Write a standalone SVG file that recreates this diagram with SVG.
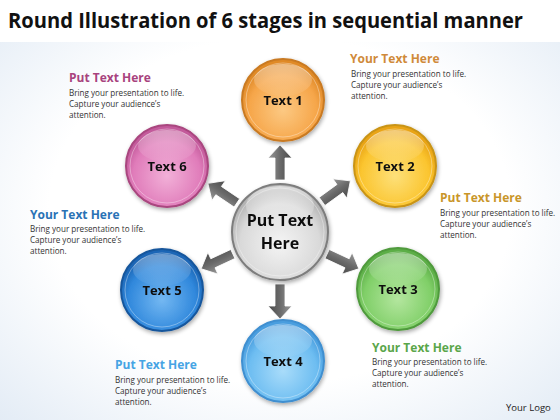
<svg xmlns="http://www.w3.org/2000/svg" width="560" height="420" viewBox="0 0 560 420">
<defs>
  <radialGradient id="bg" cx="50%" cy="50%" r="75%">
    <stop offset="0.55" stop-color="#ffffff"/>
    <stop offset="1" stop-color="#dfe9f4"/>
  </radialGradient>
  <linearGradient id="hl" x1="0" y1="0" x2="0" y2="1">
    <stop offset="0" stop-color="#fff" stop-opacity="0.75"/>
    <stop offset="1" stop-color="#fff" stop-opacity="0.05"/>
  </linearGradient>
  <radialGradient id="gO" cx="50%" cy="62%" r="55%"><stop offset="0" stop-color="#fcc983"/><stop offset="0.75" stop-color="#f6a64a"/><stop offset="1" stop-color="#e08a28"/></radialGradient>
  <radialGradient id="gY" cx="50%" cy="62%" r="55%"><stop offset="0" stop-color="#fde07a"/><stop offset="0.75" stop-color="#fbc52f"/><stop offset="1" stop-color="#e9a415"/></radialGradient>
  <radialGradient id="gG" cx="50%" cy="62%" r="55%"><stop offset="0" stop-color="#b4e69f"/><stop offset="0.75" stop-color="#80cf68"/><stop offset="1" stop-color="#5cae47"/></radialGradient>
  <radialGradient id="gL" cx="50%" cy="62%" r="55%"><stop offset="0" stop-color="#a9dcfa"/><stop offset="0.75" stop-color="#6dbdf1"/><stop offset="1" stop-color="#4a9edf"/></radialGradient>
  <radialGradient id="gB" cx="50%" cy="62%" r="55%"><stop offset="0" stop-color="#74b8f2"/><stop offset="0.75" stop-color="#3088dc"/><stop offset="1" stop-color="#1c66b6"/></radialGradient>
  <radialGradient id="gP" cx="50%" cy="62%" r="55%"><stop offset="0" stop-color="#f2b0d8"/><stop offset="0.75" stop-color="#e07cba"/><stop offset="1" stop-color="#c35a9b"/></radialGradient>
  <radialGradient id="gC" cx="50%" cy="62%" r="55%"><stop offset="0" stop-color="#f4f4f4"/><stop offset="0.75" stop-color="#d9d9d9"/><stop offset="1" stop-color="#b4b4b4"/></radialGradient>
  <linearGradient id="ag" x1="0" y1="0" x2="0" y2="1">
    <stop offset="0" stop-color="#9a9a9a"/>
    <stop offset="0.5" stop-color="#6a6a6a"/>
    <stop offset="1" stop-color="#4a4a4a"/>
  </linearGradient>
  <filter id="sh" x="-20%" y="-20%" width="140%" height="140%">
    <feGaussianBlur in="SourceAlpha" stdDeviation="2"/>
    <feOffset dx="1" dy="2"/>
    <feComponentTransfer><feFuncA type="linear" slope="0.35"/></feComponentTransfer>
    <feMerge><feMergeNode/><feMergeNode in="SourceGraphic"/></feMerge>
  </filter>
  <path id="arr" d="M52,-5 L74,-5 L74,-12 L87,0 L74,12 L74,5 L52,5 Z"/>
</defs>
<style>
  .title{font-family:"Open Sans","Liberation Sans",sans-serif;font-weight:bold;font-size:21px;fill:#111}
  .lbl{font-family:"Open Sans","Liberation Sans",sans-serif;font-weight:bold;font-size:13px;fill:#111;text-anchor:middle}
  .clbl{font-family:"Open Sans","Liberation Sans",sans-serif;font-weight:bold;font-size:16px;fill:#111;text-anchor:middle}
  .hd{font-family:"Open Sans","Liberation Sans",sans-serif;font-weight:bold;font-size:12px}
  .bd{font-family:"Open Sans","Liberation Sans",sans-serif;font-size:8.1px;fill:#333}
  .logo{font-family:"Open Sans","Liberation Sans",sans-serif;font-size:9.5px;fill:#222}
  .ring{stroke-width:2}
  .inner{fill:none;stroke:#fff;stroke-opacity:0.35;stroke-width:1}
  .arrow{fill:url(#ag);stroke:#fff;stroke-width:0.8}
</style>
<rect width="560" height="420" fill="url(#bg)"/>
<rect width="560" height="42" fill="#ffffff"/>
<text class="title" x="8" y="28" textLength="515" lengthAdjust="spacingAndGlyphs">Round Illustration of 6 stages in sequential manner</text>

<g id="connectors">
  <use href="#arr" class="arrow" transform="translate(280,232) rotate(-90)"/>
  <use href="#arr" class="arrow" transform="translate(280,232) rotate(-36)"/>
  <use href="#arr" class="arrow" transform="translate(280,232) rotate(25)"/>
  <use href="#arr" class="arrow" transform="translate(280,232) rotate(90)"/>
  <use href="#arr" class="arrow" transform="translate(280,232) rotate(155)"/>
  <use href="#arr" class="arrow" transform="translate(280,232) rotate(-146)"/>
</g>

<g id="center" filter="url(#sh)">
  <circle cx="280" cy="232" r="48" fill="url(#gC)" stroke="#7d7d7d" class="ring"/>
  <circle cx="280" cy="232" r="44" class="inner"/>
  <ellipse cx="280" cy="206" rx="34" ry="20" fill="url(#hl)" opacity="0.7"/>
  <text class="clbl" x="280" y="226">Put Text</text>
  <text class="clbl" x="280" y="249">Here</text>
</g>

<g id="node1" filter="url(#sh)">
  <circle cx="283" cy="100" r="41" fill="url(#gO)" stroke="#c97a22" class="ring"/>
  <circle cx="283" cy="100" r="37" class="inner"/>
  <ellipse cx="283" cy="80" rx="29" ry="16" fill="url(#hl)" opacity="0.6"/>
  <text class="lbl" x="283" y="105">Text 1</text>
</g>
<g id="node2" filter="url(#sh)">
  <circle cx="395" cy="166" r="41" fill="url(#gY)" stroke="#c99415" class="ring"/>
  <circle cx="395" cy="166" r="37" class="inner"/>
  <ellipse cx="395" cy="146" rx="29" ry="16" fill="url(#hl)" opacity="0.6"/>
  <text class="lbl" x="395" y="171">Text 2</text>
</g>
<g id="node3" filter="url(#sh)">
  <circle cx="398" cy="289" r="41" fill="url(#gG)" stroke="#4f9a3c" class="ring"/>
  <circle cx="398" cy="289" r="37" class="inner"/>
  <ellipse cx="398" cy="269" rx="29" ry="16" fill="url(#hl)" opacity="0.6"/>
  <text class="lbl" x="398" y="294">Text 3</text>
</g>
<g id="node4" filter="url(#sh)">
  <circle cx="283" cy="361" r="41" fill="url(#gL)" stroke="#3f8fd0" class="ring"/>
  <circle cx="283" cy="361" r="37" class="inner"/>
  <ellipse cx="283" cy="341" rx="29" ry="16" fill="url(#hl)" opacity="0.6"/>
  <text class="lbl" x="283" y="366">Text 4</text>
</g>
<g id="node5" filter="url(#sh)">
  <circle cx="162" cy="290" r="41" fill="url(#gB)" stroke="#17569c" class="ring"/>
  <circle cx="162" cy="290" r="37" class="inner"/>
  <ellipse cx="162" cy="270" rx="29" ry="16" fill="url(#hl)" opacity="0.5"/>
  <text class="lbl" x="162" y="295">Text 5</text>
</g>
<g id="node6" filter="url(#sh)">
  <circle cx="167" cy="166" r="41" fill="url(#gP)" stroke="#a9467f" class="ring"/>
  <circle cx="167" cy="166" r="37" class="inner"/>
  <ellipse cx="167" cy="146" rx="29" ry="16" fill="url(#hl)" opacity="0.55"/>
  <text class="lbl" x="167" y="171">Text 6</text>
</g>

<g id="note1">
  <text class="hd" x="350" y="63" fill="#d08a3a">Your Text Here</text>
  <text class="bd" x="351" y="77">Bring your presentation to life.</text>
  <text class="bd" x="351" y="88">Capture your audience’s</text>
  <text class="bd" x="351" y="99">attention.</text>
</g>
<g id="note2">
  <text class="hd" x="440" y="202" fill="#c9962a">Put Text Here</text>
  <text class="bd" x="440" y="216">Bring your presentation to life.</text>
  <text class="bd" x="440" y="227">Capture your audience’s</text>
  <text class="bd" x="440" y="238">attention.</text>
</g>
<g id="note3">
  <text class="hd" x="372" y="352" fill="#5aa64a">Your Text Here</text>
  <text class="bd" x="372" y="365">Bring your presentation to life.</text>
  <text class="bd" x="372" y="376">Capture your audience’s</text>
  <text class="bd" x="372" y="387">attention.</text>
</g>
<g id="note4">
  <text class="hd" x="115" y="369" fill="#46a4e4">Put Text Here</text>
  <text class="bd" x="115" y="383">Bring your presentation to life.</text>
  <text class="bd" x="115" y="394">Capture your audience’s</text>
  <text class="bd" x="115" y="405">attention.</text>
</g>
<g id="note5">
  <text class="hd" x="30" y="219" fill="#2a72b5">Your Text Here</text>
  <text class="bd" x="30" y="232">Bring your presentation to life.</text>
  <text class="bd" x="30" y="243">Capture your audience’s</text>
  <text class="bd" x="30" y="254">attention.</text>
</g>
<g id="note6">
  <text class="hd" x="69" y="82" fill="#a8437e">Put Text Here</text>
  <text class="bd" x="69" y="96">Bring your presentation to life.</text>
  <text class="bd" x="69" y="107">Capture your audience’s</text>
  <text class="bd" x="69" y="118">attention.</text>
</g>
<text class="logo" x="506" y="411">Your Logo</text>
</svg>
